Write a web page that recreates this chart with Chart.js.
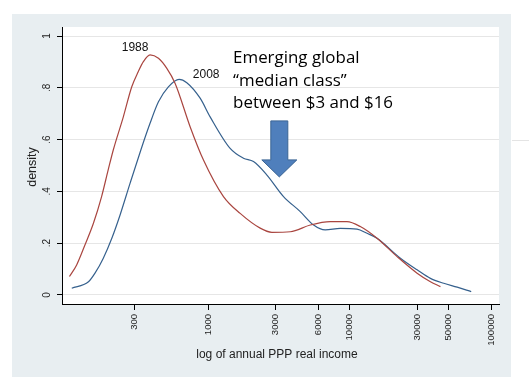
<!DOCTYPE html>
<html>
<head>
<meta charset="utf-8">
<script src="https://cdn.jsdelivr.net/npm/chart.js@4.4.0/dist/chart.umd.min.js"></script>
<style>
  html, body { margin: 0; padding: 0; background: #fff; }
  #chart { display: block; }
</style>
</head>
<body>
<canvas id="chart" width="529" height="387"></canvas>
<script>
// kernel density of log income
var income1988 = [105, 118, 135, 155, 177, 197, 214, 252, 289, 321, 349, 389, 446, 511, 585, 746, 927, 1283, 1683, 2330, 2818, 3800, 5260, 7280, 9550, 11860, 15560, 21570, 29850, 37070, 43630];
var density1988 = [0.071, 0.116, 0.193, 0.277, 0.380, 0.483, 0.560, 0.688, 0.804, 0.862, 0.901, 0.927, 0.914, 0.875, 0.817, 0.650, 0.521, 0.380, 0.315, 0.258, 0.242, 0.244, 0.270, 0.283, 0.283, 0.264, 0.219, 0.148, 0.084, 0.051, 0.032];

var income2008 = [109, 143, 159, 182, 209, 239, 281, 335, 389, 446, 524, 624, 707, 878, 1033, 1430, 1775, 2090, 2600, 3405, 4470, 5550, 6710, 8570, 11250, 13240, 15560, 22750, 29850, 37070, 46030, 57280, 71940];
var density2008 = [0.026, 0.051, 0.084, 0.142, 0.219, 0.309, 0.431, 0.560, 0.663, 0.746, 0.804, 0.833, 0.820, 0.760, 0.688, 0.566, 0.528, 0.515, 0.463, 0.380, 0.322, 0.270, 0.251, 0.257, 0.254, 0.238, 0.219, 0.142, 0.097, 0.064, 0.045, 0.030, 0.013];

var xTicks = [300, 1000, 3000, 6000, 10000, 30000, 50000, 100000];
var yTicks = [0, 0.2, 0.4, 0.6, 0.8, 1];
var yTickLabels = ['0', '.2', '.4', '.6', '.8', '1'];

var seriesNames = ['1988', '2008'];
var noteLines = ['Emerging global', '\u201cmedian class\u201d', 'between $3 and $16'];

function toPoints(xs, ys) {
    return xs.map(function (x, i) { return { x: x, y: ys[i] }; });
}

var AXIS_FONT = '"Liberation Sans", Arial, sans-serif';

var stataLook = {
    id: 'stataLook',
    beforeDraw: function (chart) {
        var ctx = chart.ctx, a = chart.chartArea;
        ctx.save();
        ctx.fillStyle = '#e8eef1';
        ctx.fillRect(12, 14, 499, 363);
        ctx.fillStyle = '#ffffff';
        ctx.fillRect(a.left, a.top, a.right - a.left, a.bottom - a.top);
        ctx.strokeStyle = '#e4e4e4';
        ctx.lineWidth = 1;
        ctx.beginPath();
        ctx.moveTo(512, 140.5);
        ctx.lineTo(529, 140.5);
        ctx.stroke();
        ctx.restore();
    },
    afterDraw: function (chart) {
        var ctx = chart.ctx;
        var xs = chart.scales.x, ys = chart.scales.y;
        ctx.save();
        ctx.fillStyle = '#222';

        // rotated y tick labels, Stata style
        ctx.font = '10px ' + AXIS_FONT;
        ctx.textAlign = 'center';
        ctx.textBaseline = 'middle';
        yTicks.forEach(function (v, i) {
            ctx.save();
            ctx.translate(47, ys.getPixelForValue(v));
            ctx.rotate(-Math.PI / 2);
            ctx.fillText(yTickLabels[i], 0, 0);
            ctx.restore();
        });

        // axis titles
        ctx.font = '12.5px ' + AXIS_FONT;
        ctx.save();
        ctx.translate(33, 167);
        ctx.rotate(-Math.PI / 2);
        ctx.fillText('density', 0, 0);
        ctx.restore();
        ctx.font = '12px ' + AXIS_FONT;
        ctx.fillText('log of annual PPP real income', 277, 355);

        // series labels
        ctx.fillStyle = '#111';
        ctx.font = '12px ' + AXIS_FONT;
        ctx.fillText(seriesNames[0], xs.getPixelForValue(305), ys.getPixelForValue(0.957));
        ctx.fillText(seriesNames[1], xs.getPixelForValue(968), ys.getPixelForValue(0.849));

        // note text
        var size = 17;
        ctx.font = size + 'px "Open Sans", sans-serif';
        size = size * 160 / ctx.measureText(noteLines[2]).width;
        ctx.font = size + 'px "Open Sans", sans-serif';
        ctx.textAlign = 'left';
        ctx.textBaseline = 'alphabetic';
        ctx.fillStyle = '#000';
        var nx = xs.getPixelForValue(1500);
        noteLines.forEach(function (t, i) {
            ctx.fillText(t, nx, 63 + i * 22.6);
        });

        // down arrow
        var cx = xs.getPixelForValue(3180);
        var tip = ys.getPixelForValue(0.456);
        ctx.beginPath();
        ctx.moveTo(cx - 8.5, tip - 56);
        ctx.lineTo(cx + 8.5, tip - 56);
        ctx.lineTo(cx + 8.5, tip - 17);
        ctx.lineTo(cx + 17.5, tip - 17);
        ctx.lineTo(cx, tip);
        ctx.lineTo(cx - 17.5, tip - 17);
        ctx.lineTo(cx - 8.5, tip - 17);
        ctx.closePath();
        ctx.fillStyle = '#4f7fbc';
        ctx.fill();
        ctx.strokeStyle = '#3b6594';
        ctx.lineWidth = 1;
        ctx.stroke();
        ctx.restore();
    }
};

var ctx = document.getElementById('chart').getContext('2d');

var chart = new Chart(ctx, {
    type: 'line',
    data: {
        datasets: [{
            label: seriesNames[0],
            data: toPoints(income1988, density1988),
            borderColor: '#a9453f',
            borderWidth: 1.2,
            pointRadius: 0,
            cubicInterpolationMode: 'monotone',
            fill: false
        }, {
            label: seriesNames[1],
            data: toPoints(income2008, density2008),
            borderColor: '#35608d',
            borderWidth: 1.2,
            pointRadius: 0,
            cubicInterpolationMode: 'monotone',
            fill: false
        }]
    },
    options: {
        responsive: false,
        animation: false,
        layout: { padding: { left: 12, top: 27, right: 30, bottom: 0 } },
        plugins: {
            legend: { display: false },
            tooltip: { enabled: false }
        },
        scales: {
            x: {
                type: 'logarithmic',
                min: 93,
                max: 113000,
                afterBuildTicks: function (scale) {
                    scale.ticks = xTicks.map(function (v) { return { value: v }; });
                },
                afterFit: function (scale) { scale.height = 83; },
                border: { display: true, color: '#000', width: 1 },
                grid: { drawOnChartArea: false, drawTicks: true, tickLength: 6, color: '#000' },
                ticks: {
                    autoSkip: false,
                    minRotation: 90,
                    maxRotation: 90,
                    padding: 4,
                    color: '#222',
                    font: { family: AXIS_FONT, size: 9.5 },
                    callback: function (v) { return String(v); }
                }
            },
            y: {
                min: -0.035,
                max: 1.035,
                afterBuildTicks: function (scale) {
                    scale.ticks = yTicks.map(function (v) { return { value: v }; });
                },
                afterFit: function (scale) { scale.width = 50; },
                border: { display: true, color: '#000', width: 1 },
                grid: { color: '#e6e6e6', tickColor: '#000', tickLength: 5, drawTicks: true },
                ticks: { display: false }
            }
        }
    },
    plugins: [stataLook]
});
</script>
</body>
</html>
